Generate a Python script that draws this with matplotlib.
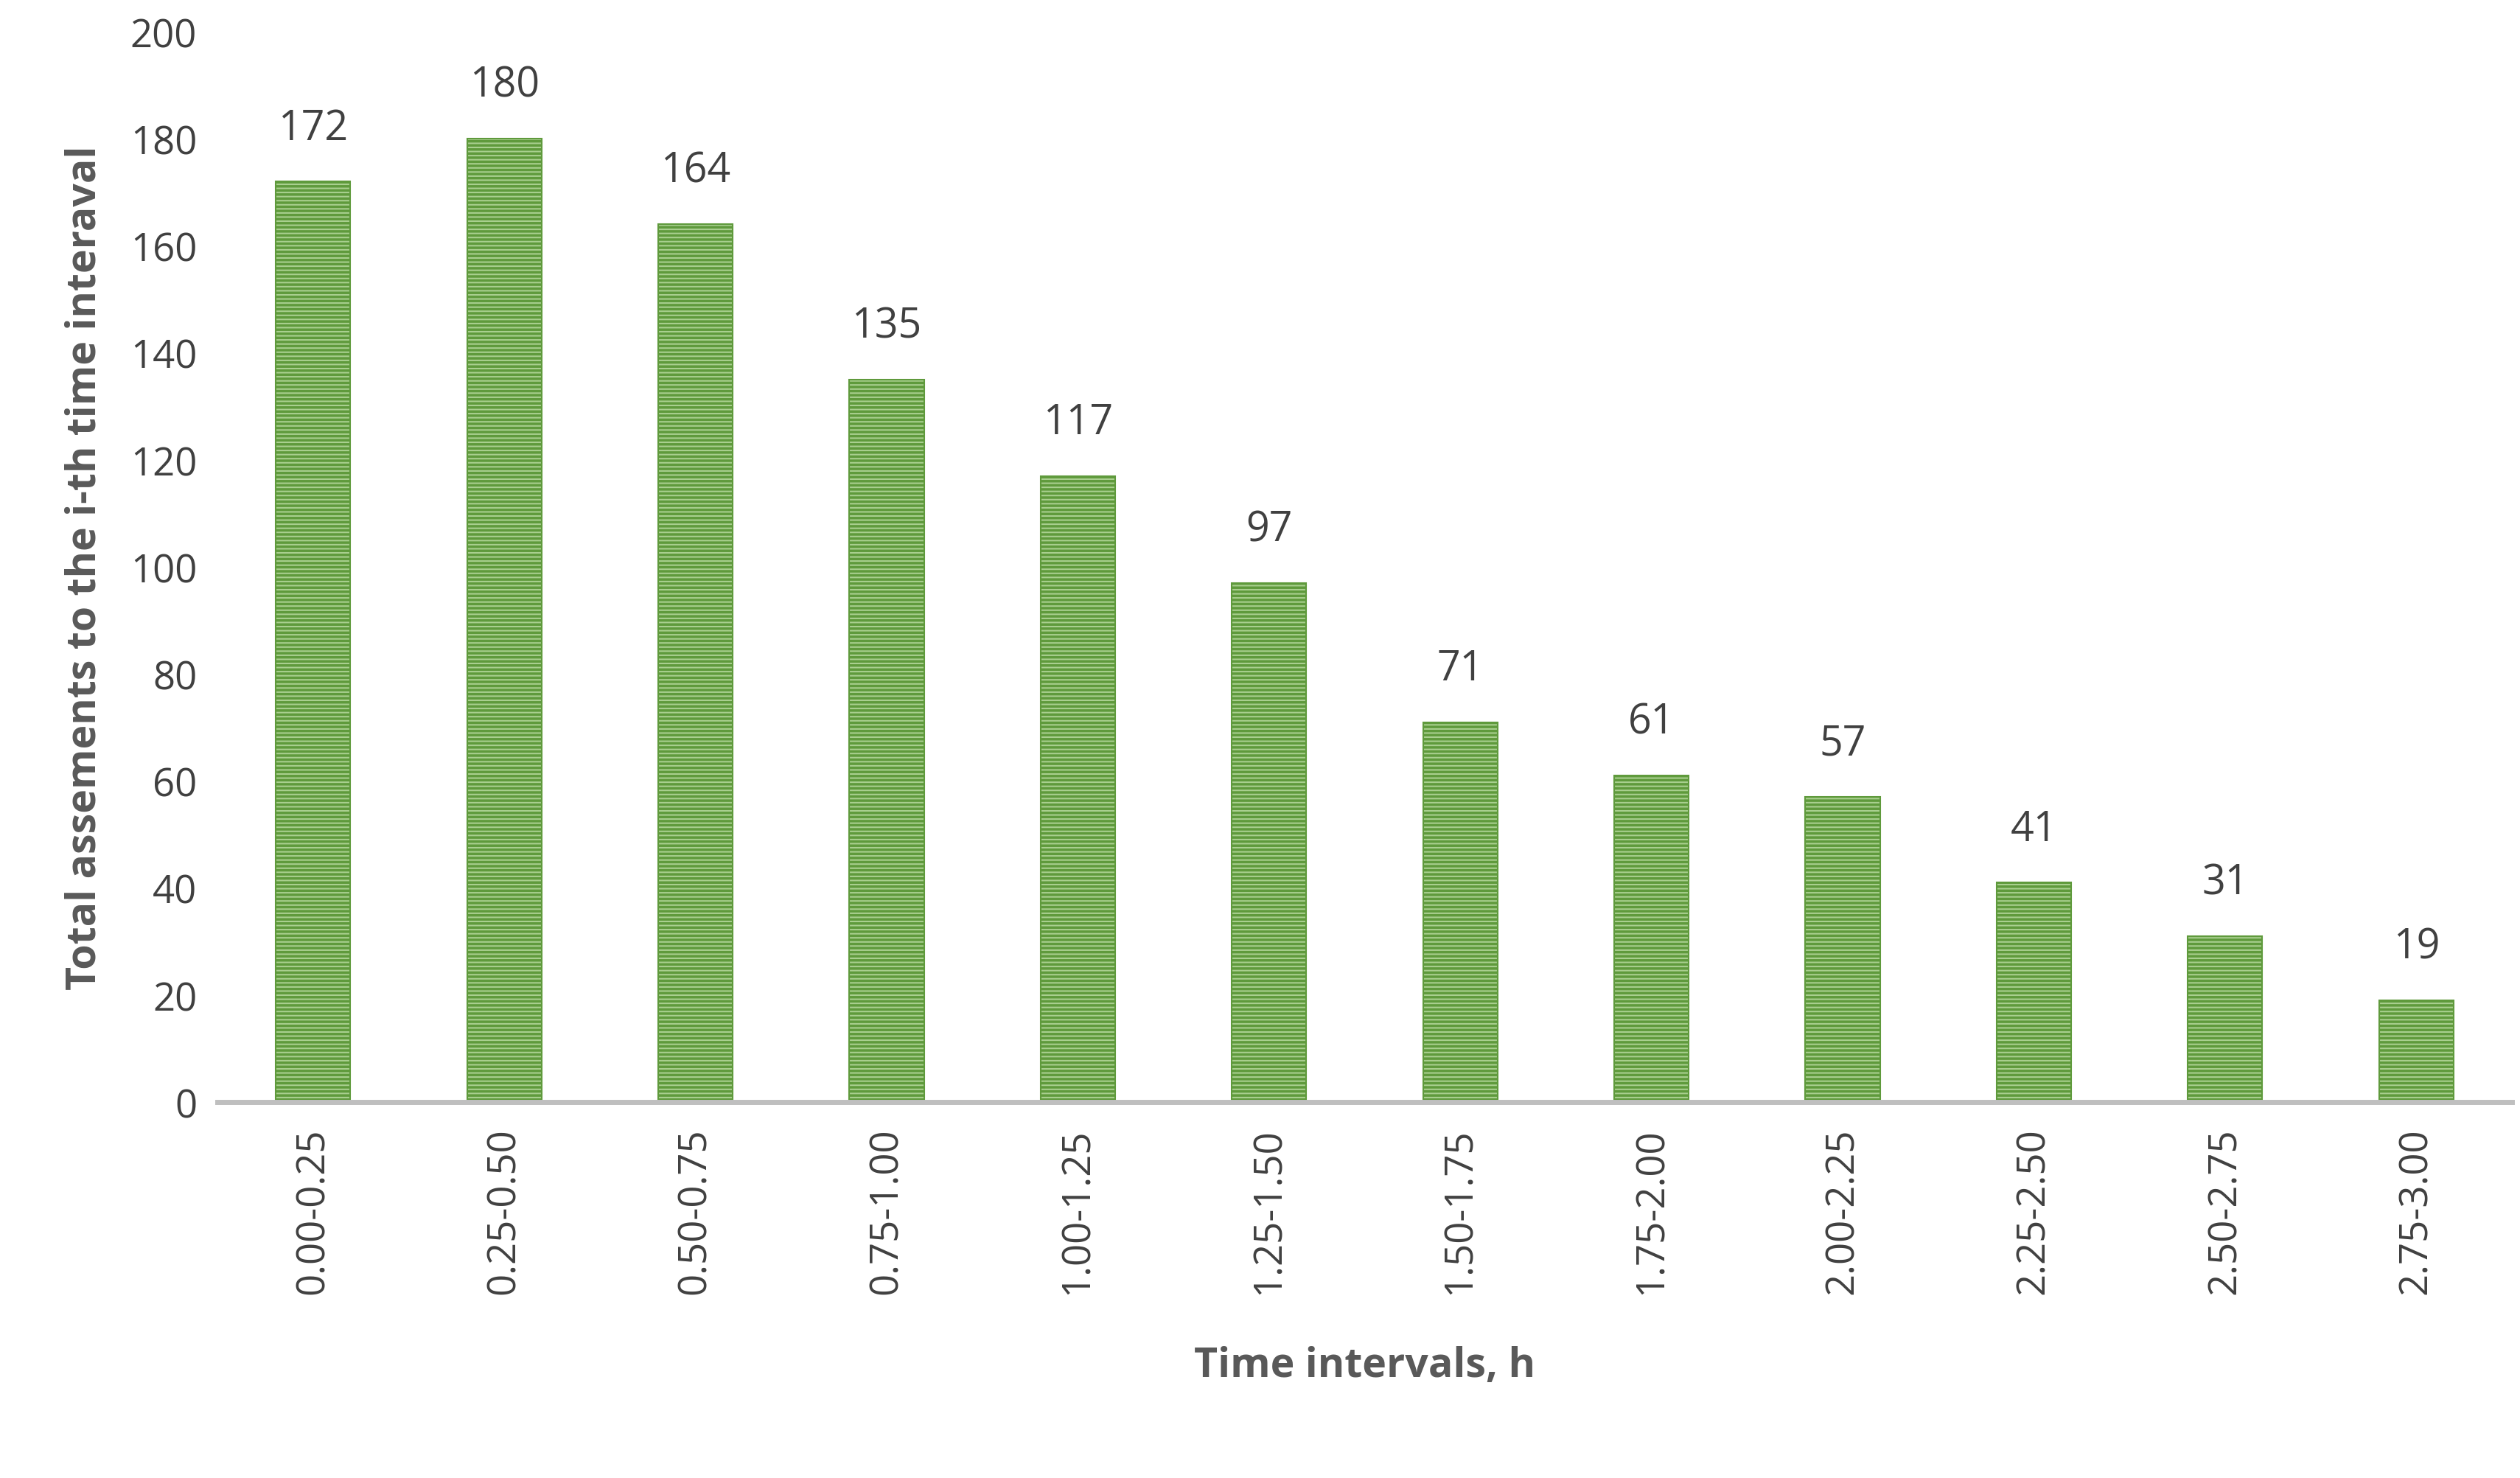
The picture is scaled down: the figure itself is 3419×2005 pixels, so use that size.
import matplotlib
matplotlib.use("Agg")
import matplotlib.pyplot as plt

categories = ["0.00-0.25","0.25-0.50","0.50-0.75","0.75-1.00","1.00-1.25","1.25-1.50",
              "1.50-1.75","1.75-2.00","2.00-2.25","2.25-2.50","2.50-2.75","2.75-3.00"]
values = [172, 180, 164, 135, 117, 97, 71, 61, 57, 41, 31, 19]

plt.rcParams['font.family'] = ['Open Sans', 'DejaVu Sans']
plt.rcParams['hatch.linewidth'] = 2.5
plt.rcParams['hatch.color'] = '#4e8a2e'

fig = plt.figure(figsize=(34.19, 20.06), dpi=100)
ax = fig.add_axes([295/3419, 1 - 1496/2006, (3408-295)/3419, (1496-44)/2006])

x = range(len(values))
ax.bar(x, values, width=0.39, color='#a9cf8f', edgecolor='#5f9a3c', hatch='---', linewidth=1.5)
for i, v in enumerate(values):
    ax.text(i, v + 6, str(v), ha='center', va='bottom', fontsize=40, color='#404040')

ax.set_xlim(-0.5, 11.5)
ax.set_ylim(0, 200)
ax.set_yticks(range(0, 201, 20))
ax.set_xticks(list(x))
ax.set_xticklabels(categories, rotation=90, fontsize=38, color='#404040')
ax.tick_params(axis='y', labelsize=38, colors='#404040', length=0, pad=20)
ax.tick_params(axis='x', length=0, pad=25)
for s in ['top', 'right', 'left']:
    ax.spines[s].set_visible(False)
ax.spines['bottom'].set_color('#bfbfbf')
ax.spines['bottom'].set_linewidth(5)
ax.set_ylabel('Total assements to the i-th time interaval', fontsize=40, fontweight='bold', color='#595959', labelpad=25)
ax.set_xlabel('Time intervals, h', fontsize=40, fontweight='bold', color='#595959', labelpad=50)

fig.savefig('out.png', dpi=100)
